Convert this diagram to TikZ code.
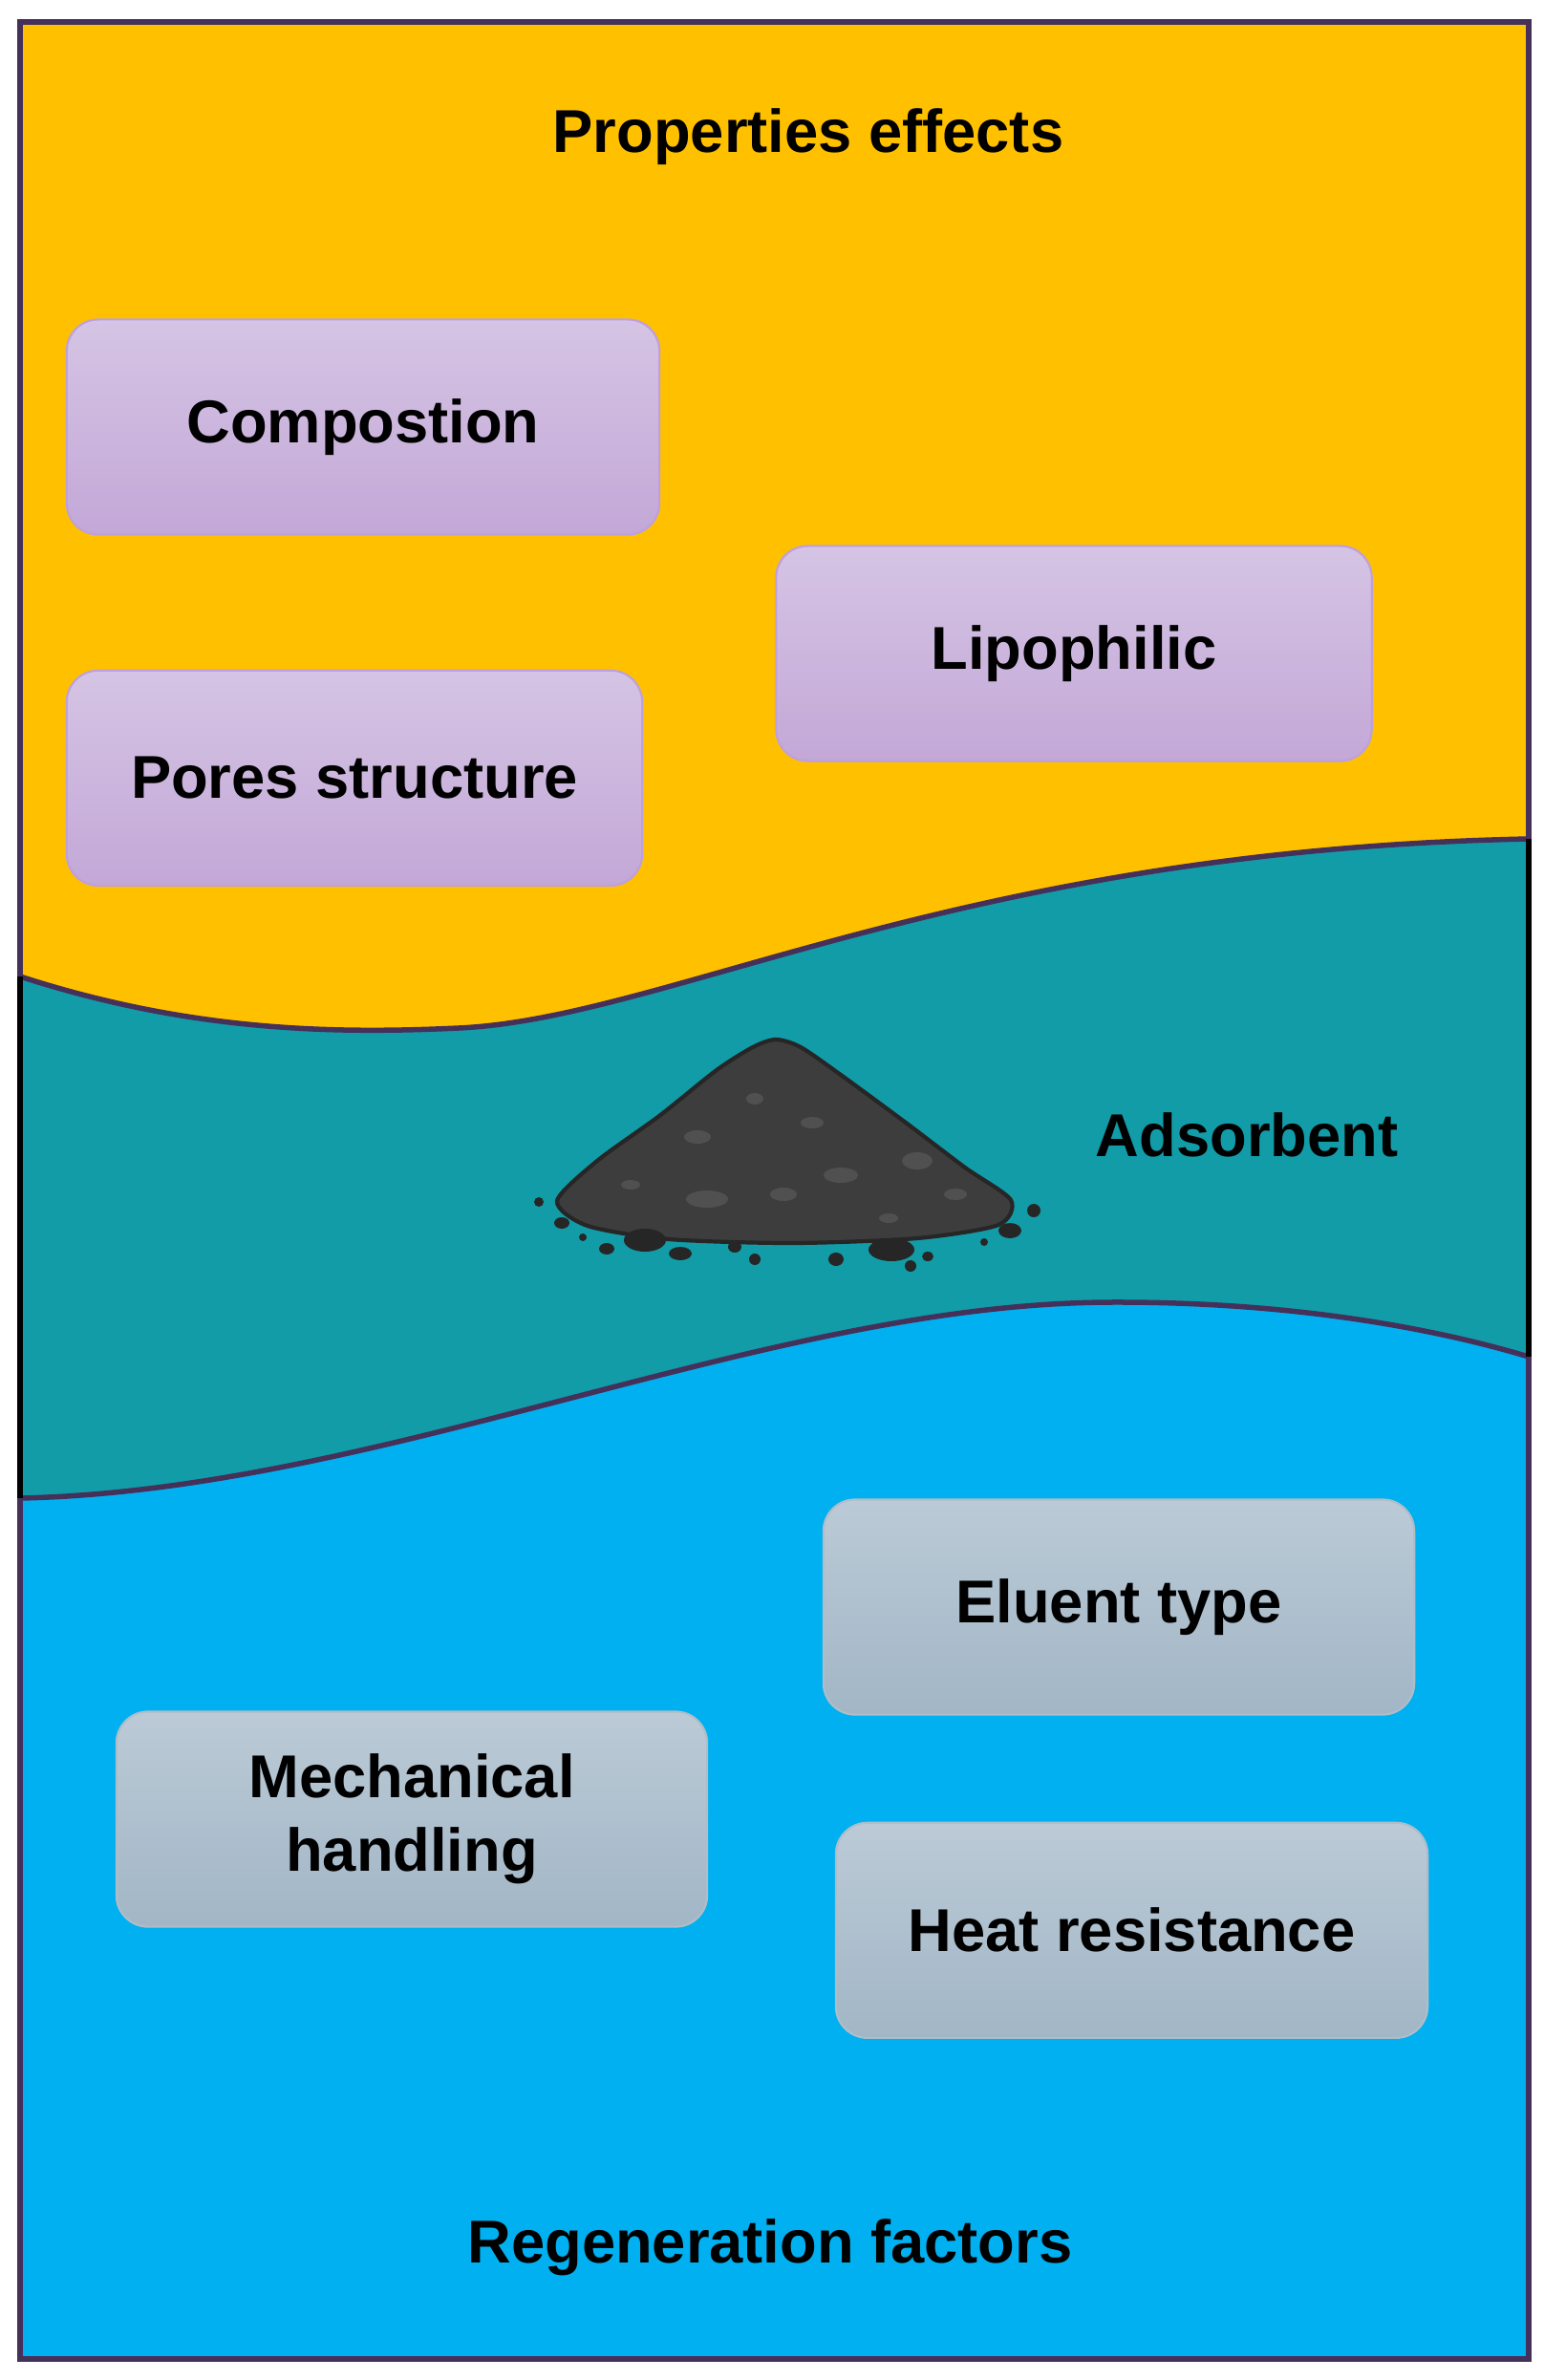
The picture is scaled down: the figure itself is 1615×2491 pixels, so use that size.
\documentclass[tikz,border=0pt]{standalone}
\usepackage{fontspec}
\setmainfont{Liberation Sans}
\usepackage{tikz}
\usetikzlibrary{positioning}
\usepackage{xcolor}

\definecolor{amber}{HTML}{FFC000}
\definecolor{tealband}{HTML}{119CA8}
\definecolor{skyband}{HTML}{00B0F0}
\definecolor{frameline}{HTML}{45305A}
\definecolor{lilactop}{HTML}{D5C4E4}
\definecolor{lilacbot}{HTML}{C3A8D7}
\definecolor{lilacedge}{HTML}{BE9FDF}
\definecolor{slatetop}{HTML}{BBCAD6}
\definecolor{slatebot}{HTML}{A2B6C6}
\definecolor{slateedge}{HTML}{AFBDC8}
\definecolor{coal}{HTML}{3D3D3D}
\definecolor{coalspot}{HTML}{505050}

\begin{document}
\begin{tikzpicture}[x=0.01cm, y=-0.01cm,
    boxfont/.style={font=\fontsize{18}{22}\selectfont\bfseries, text=black, align=center},
    heading/.style={boxfont},
    propbox/.style={boxfont, draw=lilacedge, line width=0.6pt, rounded corners=0.33cm,
        top color=lilactop, bottom color=lilacbot,
        minimum width=6.2cm, minimum height=2.25cm, inner sep=0pt},
    regbox/.style={propbox, draw=slateedge, top color=slatetop, bottom color=slatebot},
    wave/.style={frameline, line width=0.055cm},
    pebble/.style={fill=black!85}]
    \useasboundingbox (0,0) rectangle (1615,2491);

    % bands
    \fill[skyband] (21,23) rectangle (1600,2469);
    \fill[amber] (21,23) -- (1600,23) -- (1600,878)
        .. controls (1000,890) and (700,1066) .. (480,1076)
        .. controls (350,1082) and (200,1080) .. (21,1022) -- cycle;
    \fill[tealband] (21,1022) .. controls (200,1080) and (350,1082) .. (480,1076)
        .. controls (700,1066) and (1000,890) .. (1600,878) -- (1600,1420)
        .. controls (1500,1390) and (1350,1362) .. (1160,1363)
        .. controls (800,1365) and (400,1560) .. (21,1568) -- cycle;
    \draw[wave] (21,1022) .. controls (200,1080) and (350,1082) .. (480,1076)
        .. controls (700,1066) and (1000,890) .. (1600,878);
    \draw[wave] (21,1568) .. controls (400,1560) and (800,1365) .. (1160,1363)
        .. controls (1350,1362) and (1500,1390) .. (1600,1420);

    % frame
    \draw[frameline, line width=0.06cm] (21,23) rectangle (1600,2469);
    \draw[black, line width=0.06cm] (21,1022) -- (21,1568);
    \draw[black, line width=0.06cm] (1600,878) -- (1600,1420);

    % top band
    \node[heading] (props) at (846,143) {Properties effects};
    \node[propbox] (comp) at (380,447) {Compostion};
    \node[propbox, minimum width=6.02cm, below=1.4cm of comp.south west, anchor=north west] (pores) {Pores structure};
    \node[propbox, minimum width=6.23cm] (lipo) at (1124,684) {Lipophilic};

    % adsorbent pile
    \draw[fill=coal, draw=black!85, line width=1.2pt] plot[smooth cycle, tension=0.45] coordinates {
        (812,1088) (838,1096) (880,1125) (948,1175) (1010,1222) (1058,1256)
        (1045,1282) (960,1296) (830,1301) (700,1297) (615,1283) (583,1257)
        (625,1215) (690,1168) (750,1120) (788,1096)};
    \foreach \sx/\sy/\rx/\ry in {730/1190/14/7, 790/1150/9/6, 850/1175/12/6, 880/1230/18/8,
        960/1215/16/9, 740/1255/22/9, 1000/1250/12/6, 660/1240/10/5, 820/1250/14/7, 930/1275/10/5}
        \fill[coalspot] (\sx,\sy) ellipse [x radius=\rx, y radius=\ry];
    \foreach \px/\py/\rx/\ry in {564/1258/5/5, 588/1280/8/6, 635/1307/8/6, 675/1298/22/12,
        712/1312/12/7, 769/1305/7/6, 790/1318/6/6, 875/1318/8/7, 933/1308/24/12,
        953/1325/6/6, 971/1315/6/5, 1057/1288/12/8, 1082/1267/7/7, 610/1295/4/4, 1030/1300/4/4}
        \fill[pebble] (\px,\py) ellipse [x radius=\rx, y radius=\ry];
    \node[heading] (adsorb) at (1305,1188) {Adsorbent};

    % bottom band
    \node[regbox, minimum width=6.18cm] (eluent) at (1171,1682) {Eluent type};
    \node[regbox, minimum width=6.19cm, below=1.11cm of eluent.south west, anchor=north west, xshift=0.13cm] (heat) {Heat resistance};
    \node[regbox, minimum width=6.18cm] (mech) at (431,1904) {Mechanical\\handling};
    \node[heading] (regen) at (806,2352) {Regeneration factors};
\end{tikzpicture}
\end{document}
